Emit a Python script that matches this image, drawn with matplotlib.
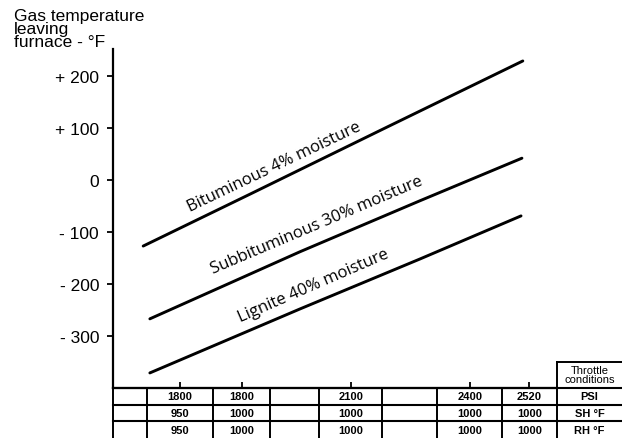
import matplotlib
matplotlib.use("Agg")
import matplotlib.pyplot as plt

# horizontal scale: arbitrary position units, 0..100 across the plot axis
col_edges = [0, 7.7, 22.5, 35.4, 46.4, 60.6, 73.0, 87.6, 100.0, 114.6]
psi = ['', '1800', '1800', '', '2100', '', '2400', '2520', 'PSI']
sh = ['', '950', '1000', '', '1000', '', '1000', '1000', 'SH °F']
rh = ['', '950', '1000', '', '1000', '', '1000', '1000', 'RH °F']

bit_x = [6.8, 30.9, 60.8, 92.3]
bit_y = [-127, -27, 98, 229]
sub_x = [8.3, 42.1, 69.1, 92.1]
sub_y = [-267, -138, -40, 42]
lig_x = [8.3, 42.1, 69.1, 91.9]
lig_y = [-371, -248, -152, -69]

y_ticks = [200, 100, 0, -100, -200, -300]
y_ticklabels = ['+ 200', '+ 100', '0', '- 100', '- 200', '- 300']


def main():
    plt.rcParams['font.family'] = ['Liberation Sans', 'DejaVu Sans']
    W, H = 622, 439
    fig = plt.figure(figsize=(W / 100, H / 100), dpi=100)

    ax = fig.add_axes([113 / W, (H - 389) / H, 444 / W, 339 / H])
    ax.plot(bit_x, bit_y, color='black', lw=2.1, solid_capstyle='round')
    ax.plot(sub_x, sub_y, color='black', lw=2.1, solid_capstyle='round')
    ax.plot(lig_x, lig_y, color='black', lw=2.1, solid_capstyle='round')
    ax.set_xlim(0, 100)
    ax.set_ylim(-400, 252)
    ax.spines['top'].set_visible(False)
    ax.spines['right'].set_visible(False)
    ax.spines['left'].set_linewidth(1.6)
    ax.spines['bottom'].set_linewidth(1.6)
    ax.set_yticks(y_ticks)
    ax.set_yticklabels(y_ticklabels, fontsize=12.5)
    ax.tick_params(axis='y', direction='out', length=4, width=1.3, pad=6)

    # x ticks at the centres of the filled columns
    centers = [(col_edges[i] + col_edges[i + 1]) / 2 for i in range(len(psi))]
    xt = [centers[i] for i in range(len(psi) - 1) if psi[i]]
    ax.set_xticks(xt)
    ax.set_xticklabels([])
    ax.tick_params(axis='x', direction='in', length=4, width=1.3)

    lab = dict(fontsize=12, family=['Open Sans', 'DejaVu Sans'],
               rotation_mode='anchor', ha='left', va='baseline')
    ax.text(17.3, -60, 'Bituminous 4% moisture', rotation=25.5, **lab)
    ax.text(22.5, -178, 'Subbituminous 30% moisture', rotation=23, **lab)
    ax.text(28.6, -272, 'Lignite 40% moisture', rotation=23.5, **lab)

    fig.text(14 / W, 1 - 9 / H, 'Gas temperature\nleaving\nfurnace - °F',
             fontsize=12.5, ha='left', va='top', linespacing=0.85)

    # throttle conditions table
    tax = fig.add_axes([113 / W, 0, 509 / W, 76 / H])
    tax.set_xlim(0, 114.6)
    tax.set_ylim(0, 76 / 16.7)
    tax.axis('off')
    for yv in [3, 2, 1]:
        tax.plot([0, 114.6], [yv, yv], color='black', lw=1.5, clip_on=False)
    for xv in col_edges[:-1]:
        tax.plot([xv, xv], [0, 3], color='black', lw=1.4, clip_on=False)
    tax.plot([100, 100], [3, 76 / 16.7], color='black', lw=1.4, clip_on=False)
    tax.plot([100, 114.6], [76 / 16.7, 76 / 16.7], color='black', lw=1.4,
             clip_on=False)
    tax.text(107.3, 3.78, 'Throttle\nconditions', ha='center', va='center',
             fontsize=8, linespacing=0.85)
    for row, yc in zip([psi, sh, rh], [2.5, 1.5, 0.5]):
        for i, s in enumerate(row):
            if s:
                tax.text(centers[i], yc, s, ha='center', va='center',
                         fontsize=8, fontweight='bold')

    fig.savefig('out.png', dpi=100)


if __name__ == "__main__":
    main()
